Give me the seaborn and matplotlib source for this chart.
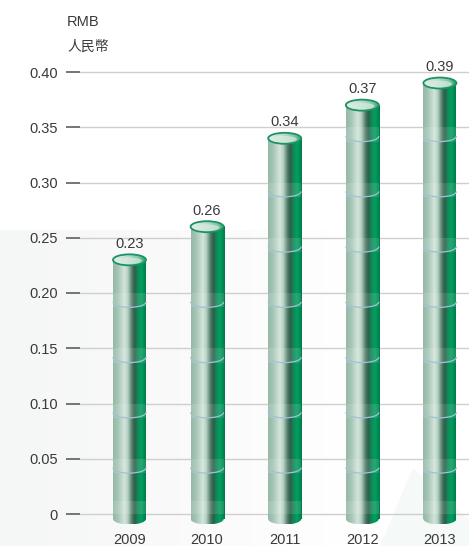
import numpy as np
import pandas as pd
import matplotlib
matplotlib.use("Agg")
import matplotlib.pyplot as plt
import seaborn as sns
from matplotlib.patches import Ellipse, Rectangle, Arc, Polygon
from matplotlib.colors import LinearSegmentedColormap

# ---- data ----
years = ["2009", "2010", "2011", "2012", "2013"]
values = [0.23, 0.26, 0.34, 0.37, 0.39]
value_labels = ["0.23", "0.26", "0.34", "0.37", "0.39"]
yticks = [0, 0.05, 0.10, 0.15, 0.20, 0.25, 0.30, 0.35, 0.40]
ytick_labels = ["0", "0.05", "0.10", "0.15", "0.20", "0.25", "0.30", "0.35", "0.40"]
unit_en = "RMB"
unit_zh = "人民幣"

sns.set_theme(style="white")
plt.rcParams["font.family"] = ["Liberation Sans", "Noto Sans CJK TC", "DejaVu Sans"]

W, H = 469, 546
fig = plt.figure(figsize=(W / 100, H / 100), dpi=100)
fig.patch.set_facecolor("white")

# faint background decoration in its own axes, behind everything
bg = fig.add_axes([0, 0, 1, 1], zorder=-10)
bg.set_xlim(0, W)
bg.set_ylim(H, 0)
bg.axis("off")
bg_cmap = LinearSegmentedColormap.from_list("bg", ["#f5f7f6", "#f9faf9", "#ffffff"])
bg.imshow(np.linspace(0, 1, 256).reshape(1, -1), extent=[0, 360, 546, 230],
          aspect="auto", cmap=bg_cmap, interpolation="bilinear")
bg.add_patch(Polygon([(380, 546), (413, 468), (469, 520), (469, 546)], closed=True,
                     facecolor="#f5f9f7", edgecolor="none"))
bg.set_xlim(0, W)
bg.set_ylim(H, 0)

px_per_cat = 77.6
x0_px = 129.5
y0_px, y40_px = 514, 72
px_per_unit = (y0_px - y40_px) / 0.40

ax_left_px, ax_right_px = 80, 469
ax_top_px, ax_bot_px = 40, 530
ax = fig.add_axes([ax_left_px / W, 1 - ax_bot_px / H,
                   (ax_right_px - ax_left_px) / W, (ax_bot_px - ax_top_px) / H], zorder=1)
ax.patch.set_alpha(0)

df = pd.DataFrame({"year": years, "value": values})
bar_w = 33 / px_per_cat
sns.barplot(data=df, x="year", y="value", ax=ax, width=bar_w,
            color="#4a9a78", saturation=1, zorder=3)

ell_h = 11 / px_per_unit
bot_c = -5 / px_per_unit

body_cmap = LinearSegmentedColormap.from_list("body", [
    (0.00, "#93b8a6"), (0.15, "#a6c5b6"), (0.35, "#d3e5db"), (0.45, "#b4cfc2"),
    (0.58, "#4e7a66"), (0.66, "#2d5d4a"), (0.76, "#0f8a58"), (0.86, "#00a062"),
    (1.00, "#007a47")])
top_cmap = LinearSegmentedColormap.from_list("top", [
    (0.0, "#e4f1ea"), (0.45, "#bcdccb"), (0.8, "#7cc3a0"), (1.0, "#2f9e6c")])
grad = np.linspace(0, 1, 256).reshape(1, -1)

for i, patch in enumerate(ax.patches):
    v = values[i]
    x0 = patch.get_x()
    w = patch.get_width()
    cx = x0 + w / 2
    patch.set_y(bot_c)
    patch.set_height(v - bot_c)
    patch.set_facecolor("none")
    patch.set_edgecolor("none")
    # body gradient
    ax.imshow(grad, extent=[x0, x0 + w, bot_c, v], aspect="auto",
              cmap=body_cmap, zorder=3, interpolation="bilinear")
    # bottom ellipse gradient
    be = Ellipse((cx, bot_c), w, ell_h, facecolor="none", edgecolor="none", zorder=3)
    ax.add_patch(be)
    im2 = ax.imshow(grad, extent=[x0, x0 + w, bot_c - ell_h / 2, bot_c], aspect="auto",
                    cmap=body_cmap, zorder=3, interpolation="bilinear")
    im2.set_clip_path(be)
    # lighter band above bottom
    ax.add_patch(Rectangle((x0, 0.0), w, 0.012, facecolor="white", alpha=0.12,
                           edgecolor="none", zorder=4))
    # bands and arcs at grid levels
    for lv in yticks[1:]:
        if lv + 0.012 < v:
            ax.add_patch(Rectangle((x0, lv - 0.013), w, 0.013,
                                   facecolor="white", alpha=0.12, edgecolor="none", zorder=4))
            ax.add_patch(Arc((cx, lv - 0.013 + ell_h / 2), w, ell_h, theta1=180, theta2=360,
                             color="#9fc2d4", lw=0.9, zorder=4))
    # top ellipse
    te = Ellipse((cx, v), w, ell_h, facecolor="none", edgecolor="none", zorder=5)
    ax.add_patch(te)
    im3 = ax.imshow(grad, extent=[x0, x0 + w, v - ell_h / 2, v + ell_h / 2], aspect="auto",
                    cmap=top_cmap, zorder=5, interpolation="bilinear")
    im3.set_clip_path(te)
    ax.add_patch(Ellipse((cx, v), w, ell_h, facecolor="none", edgecolor="#1b9263",
                         lw=1.3, zorder=6))
    inner = Ellipse((cx - w * 0.03, v - ell_h * 0.08), w * 0.8, ell_h * 0.6,
                    facecolor="#d8ece1", edgecolor="none", alpha=0.7, zorder=6)
    ax.add_patch(inner)
    ax.annotate(value_labels[i], (i, v), xytext=(0, 8.6), textcoords="offset points",
                ha="center", va="baseline", fontsize=10.5, color="#3a3a3a", zorder=7)

ax.set_xlim(-(x0_px - ax_left_px) / px_per_cat, (ax_right_px - x0_px) / px_per_cat)
ax.set_ylim((y0_px - ax_bot_px) / px_per_unit, (y0_px - ax_top_px) / px_per_unit)

ax.set_yticks(yticks)
ax.set_yticklabels(ytick_labels)
ax.yaxis.grid(True, color="#cfcfcf", lw=1)
ax.xaxis.grid(False)
ax.set_axisbelow(True)
for s in ax.spines.values():
    s.set_visible(False)
ax.tick_params(axis="y", which="major", left=True, length=10, width=1.3,
               color="#6a6a6a", pad=6, labelsize=10.5, labelcolor="#3a3a3a", direction="out")
ax.tick_params(axis="x", bottom=False, length=0, pad=2.5, labelsize=10.5, labelcolor="#3a3a3a")
ax.set_xlabel("")
ax.set_ylabel("")

fig.text(67 / W, 1 - 26 / H, unit_en, fontsize=10.5, color="#3a3a3a", va="baseline", ha="left")
fig.text(67 / W, 1 - 51 / H, unit_zh, fontsize=10, color="#3a3a3a", va="baseline", ha="left",
         family=["Noto Sans CJK TC", "DejaVu Sans"])

fig.savefig("out.png", dpi=100)
